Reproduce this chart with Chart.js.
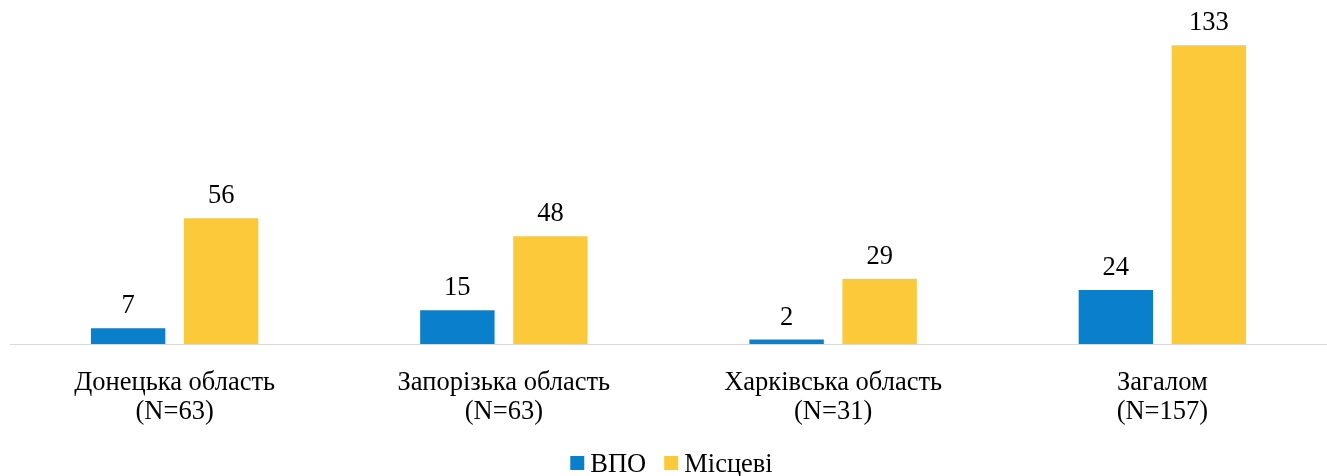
<!DOCTYPE html>
<html>
<head>
<meta charset="utf-8">
<script src="https://cdn.jsdelivr.net/npm/chart.js@4/dist/chart.umd.min.js"></script>
<style>
  html, body { margin: 0; padding: 0; background: #fff; }
  #wrap { width: 1327px; height: 476px; }
</style>
</head>
<body>
<div id="wrap"><canvas id="chart"></canvas></div>
<script>
// Data
const categories = [
  ['Донецька область', '(N=63)'],
  ['Запорізька область', '(N=63)'],
  ['Харківська область', '(N=31)'],
  ['Загалом', '(N=157)']
];
const vpoValues = [7, 15, 2, 24];
const localValues = [56, 48, 29, 133];
const seriesNames = ['ВПО', 'Місцеві'];
const seriesColors = ['#0a80cc', '#fcc93a'];

const FONT = "'Liberation Serif', 'Times New Roman', serif";
const FONT_SIZE = 26.5;

// draws the value above each bar
const valueLabels = {
  id: 'valueLabels',
  afterDatasetsDraw(chart){
    const ctx = chart.ctx;
    ctx.save();
    ctx.font = FONT_SIZE + 'px ' + FONT;
    ctx.fillStyle = '#000';
    ctx.textAlign = 'center';
    ctx.textBaseline = 'alphabetic';
    chart.data.datasets.forEach((ds, i) => {
      chart.getDatasetMeta(i).data.forEach((bar, j) => {
        ctx.fillText(String(ds.data[j]), bar.x, bar.y - 15);
      });
    });
    ctx.restore();
  }
};

// legend at the bottom, drawn by hand to get the tight box/text spacing
const bottomLegend = {
  id: 'bottomLegend',
  afterDraw(chart){
    const ctx = chart.ctx;
    const box = 14, gap = 6, itemGap = 18;
    ctx.save();
    ctx.font = FONT_SIZE + 'px ' + FONT;
    ctx.textBaseline = 'alphabetic';
    ctx.textAlign = 'left';
    const widths = seriesNames.map(n => ctx.measureText(n).width);
    const total = widths.reduce((a, w) => a + box + gap + w, 0) + itemGap * (seriesNames.length - 1);
    let x = (chart.width - total) / 2 + 8;
    const baseY = 472;
    seriesNames.forEach((n, i) => {
      ctx.fillStyle = seriesColors[i];
      ctx.fillRect(x, baseY - box - 2, box, box);
      x += box + gap;
      ctx.fillStyle = '#000';
      ctx.fillText(n, x, baseY);
      x += widths[i] + itemGap;
    });
    ctx.restore();
  }
};

new Chart(document.getElementById('chart'), {
  type: 'bar',
  data: {
    labels: categories,
    datasets: [
      { label: seriesNames[0], data: vpoValues, backgroundColor: seriesColors[0] },
      { label: seriesNames[1], data: localValues, backgroundColor: seriesColors[1] }
    ]
  },
  options: {
    responsive: true,
    maintainAspectRatio: false,
    animation: false,
    categoryPercentage: 0.565,
    barPercentage: 0.8,
    layout: { padding: { left: 10, right: 0, top: 7, bottom: 24 } },
    plugins: {
      legend: { display: false },
      tooltip: { enabled: false }
    },
    scales: {
      x: {
        grid: { display: false, drawTicks: false },
        border: { color: '#d9d9d9', width: 1 },
        ticks: {
          color: '#000',
          font: { family: FONT, size: FONT_SIZE, lineHeight: 1.094 },
          padding: 25
        }
      },
      y: {
        display: false,
        min: 0,
        max: 150
      }
    }
  },
  plugins: [valueLabels, bottomLegend]
});
</script>
</body>
</html>
